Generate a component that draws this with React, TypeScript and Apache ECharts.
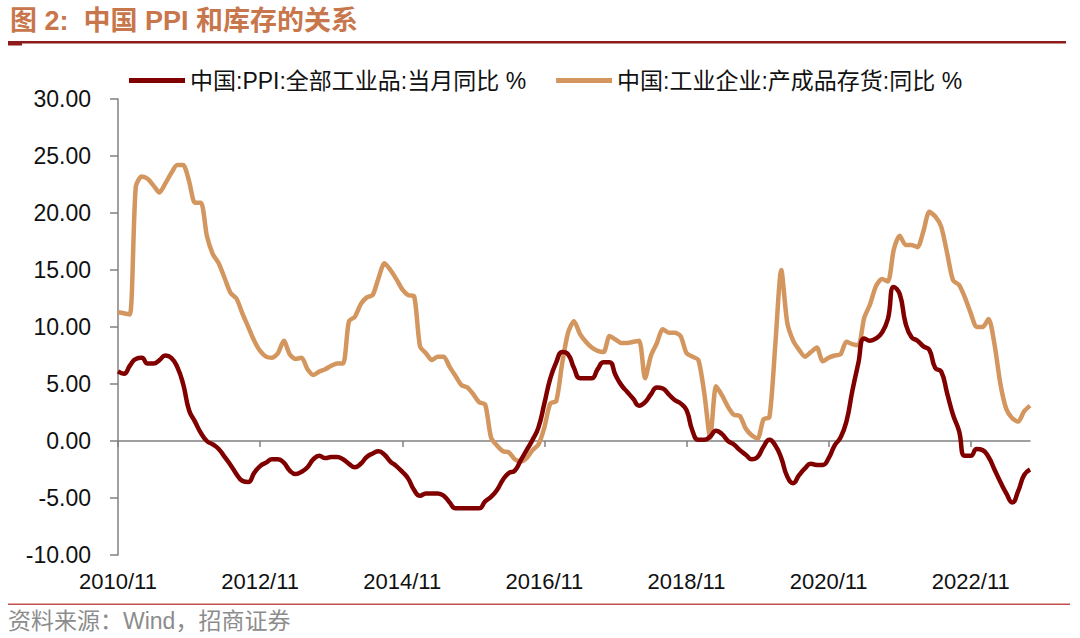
import React, { useEffect, useRef } from "react";
import * as echarts from "echarts";

// Monthly categories 2010/11 .. 2023/09
const startYear = 2010;
const startMonth = 11;
const monthCount = 155;
const categories: string[] = [];
for (let k = 0; k < monthCount; k++) {
  const m0 = startMonth - 1 + k;
  const y = startYear + Math.floor(m0 / 12);
  const m = (m0 % 12) + 1;
  categories.push(`${y}/${m < 10 ? "0" + m : m}`);
}
const labelEvery = 24;

const ppiName = "中国:PPI:全部工业品:当月同比 %";
const invName = "中国:工业企业:产成品存货:同比 %";

// PPI YoY, %
const ppi = [
  6.1, 5.9,
  6.6, 7.2, 7.3, 6.8, 6.8, 7.1, 7.5, 7.3, 6.5, 5.0, 2.7, 1.7,
  0.7, 0.0, -0.3, -0.7, -1.4, -2.1, -2.9, -3.5, -3.6, -2.8, -2.2, -1.9,
  -1.6, -1.6, -1.9, -2.6, -2.9, -2.7, -2.3, -1.6, -1.3, -1.5, -1.4, -1.4,
  -1.6, -2.0, -2.3, -2.0, -1.4, -1.1, -0.9, -1.2, -1.8, -2.2, -2.7, -3.3,
  -4.3, -4.8, -4.6, -4.6, -4.6, -4.8, -5.4, -5.9, -5.9, -5.9, -5.9, -5.9,
  -5.3, -4.9, -4.3, -3.4, -2.8, -2.6, -1.7, -0.8, 0.1, 1.2, 3.3, 5.5,
  6.9, 7.8, 7.6, 6.4, 5.5, 5.5, 5.5, 6.3, 6.9, 6.9, 5.8, 4.9,
  4.3, 3.7, 3.1, 3.4, 4.1, 4.7, 4.6, 4.1, 3.6, 3.3, 2.7, 0.9,
  0.1, 0.1, 0.4, 0.9, 0.6, 0.0, -0.3, -0.8, -1.2, -1.6, -1.4, -0.5,
  0.1, -0.4, -1.5, -3.1, -3.7, -3.0, -2.4, -2.0, -2.1, -2.1, -1.5, -0.4,
  0.3, 1.7, 4.4, 6.8, 9.0, 8.8, 9.0, 9.5, 10.7, 13.5, 12.9, 10.3,
  9.1, 8.8, 8.3, 8.0, 6.4, 6.1, 4.2, 2.3, 0.9, -1.3, -1.3, -0.7,
  -0.8, -1.4, -2.5, -3.6, -4.6, -5.4, -4.4, -3.0, -2.5,
];

// Finished goods inventory YoY, %
const inventory = [
  11.3, 11.2,
  11.1, 22.3, 23.2, 23.0, 22.4, 21.8, 22.6, 23.5, 24.2, 24.2, 22.8, 20.9,
  20.9, 18.0, 16.4, 15.6, 14.3, 13.0, 12.5, 11.2, 10.0, 8.8, 7.9, 7.4,
  7.3, 7.7, 8.8, 7.6, 7.2, 7.3, 6.3, 5.8, 6.1, 6.3, 6.6, 6.8,
  6.8, 10.5, 10.9, 12.0, 12.6, 12.8, 14.3, 15.6, 15.0, 14.2, 13.3, 12.8,
  12.7, 8.3, 7.7, 7.1, 7.4, 7.4, 6.5, 5.7, 4.9, 4.7, 4.1, 3.4,
  3.2, 0.3, -0.4, -0.9, -1.0, -1.6, -1.8, -1.5, -0.8, -0.3, 1.2, 3.3,
  3.5, 6.8, 9.5, 10.5, 9.4, 8.7, 8.2, 7.9, 7.8, 9.2, 8.9, 8.6,
  8.6, 8.7, 8.8, 5.5, 7.5, 8.6, 9.8, 9.5, 9.5, 9.2, 7.7, 7.4,
  7.1, 4.2, 0.3, 4.8, 4.0, 3.0, 2.3, 2.2, 1.1, 0.5, 0.2, 1.9,
  2.1, 8.5, 15.0, 10.4, 8.8, 8.0, 7.4, 7.8, 8.2, 7.0, 7.3, 7.5,
  7.6, 8.7, 8.5, 8.4, 10.8, 12.0, 13.6, 14.2, 14.0, 16.8, 18.0, 17.2,
  17.2, 17.0, 18.4, 20.1, 19.7, 18.8, 16.5, 14.1, 13.7, 12.6, 11.2, 10.0,
  10.0, 10.7, 8.5, 5.0, 2.8, 2.0, 1.7, 2.6, 3.1,
];

const yMin = -10;
const yMax = 30;
const yStep = 5;

const FONT = "'Liberation Sans', Arial, 'Noto Sans CJK SC', sans-serif";

export default function App() {
  const ref = useRef<HTMLDivElement>(null);

  useEffect(() => {
    if (!ref.current) return;
    const chart = echarts.init(ref.current, null, { renderer: "svg" });
    const tickEvery = (i: number) => i % labelEvery === 0;
    chart.setOption({
      animation: false,
      backgroundColor: "#ffffff",
      textStyle: { fontFamily: FONT },
      grid: {
        left: 118,
        right: 50,
        top: 99,
        bottom: 83,
        containLabel: false,
        outerBoundsMode: "none",
      },
      legend: {
        left: 124,
        top: 64,
        icon: "rect",
        itemWidth: 56,
        itemHeight: 5,
        itemGap: 30,
        textStyle: { fontSize: 23, color: "#111", fontFamily: FONT },
        data: [ppiName, invName],
      },
      xAxis: [
        {
          // labels at the bottom of the plot
          type: "category",
          position: "bottom",
          boundaryGap: false,
          data: categories,
          axisLine: { show: false, onZero: false },
          axisTick: { show: false },
          axisLabel: {
            interval: tickEvery,
            margin: 15,
            fontSize: 22,
            color: "#111",
            fontFamily: FONT,
          },
          splitLine: { show: false },
        },
        {
          // axis line and ticks at zero
          type: "category",
          position: "top",
          boundaryGap: false,
          data: categories,
          axisLine: { show: true, onZero: true, lineStyle: { color: "#808080", width: 1.5 } },
          axisTick: {
            show: true,
            inside: true,
            length: 6,
            interval: tickEvery,
            lineStyle: { color: "#808080", width: 1.5 },
          },
          axisLabel: { show: false },
          splitLine: { show: false },
        },
      ],
      yAxis: {
        type: "value",
        min: yMin,
        max: yMax,
        interval: yStep,
        axisLine: { show: true, lineStyle: { color: "#808080", width: 1.5 } },
        axisTick: { show: true, length: 8, lineStyle: { color: "#808080", width: 1.5 } },
        axisLabel: {
          formatter: (v: number) => v.toFixed(2),
          fontSize: 23,
          margin: 27,
          color: "#111",
          fontFamily: FONT,
        },
        splitLine: { show: false },
      },
      series: [
        {
          name: ppiName,
          type: "line",
          xAxisIndex: 0,
          data: ppi,
          showSymbol: false,
          smooth: 0.5,
          lineStyle: { color: "#800000", width: 4.5 },
          itemStyle: { color: "#800000" },
          z: 3,
        },
        {
          name: invName,
          type: "line",
          xAxisIndex: 0,
          data: inventory,
          showSymbol: false,
          smooth: 0.25,
          lineStyle: { color: "#D3965F", width: 4.5 },
          itemStyle: { color: "#D3965F" },
          z: 2,
        },
      ],
      graphic: [
        {
          type: "text",
          left: 10,
          top: 7,
          style: {
            text: "图 2:  中国 PPI 和库存的关系",
            fontSize: 27,
            fontWeight: "bold",
            fill: "#C8764C",
            fontFamily: FONT,
          },
        },
        { type: "rect", shape: { x: 8, y: 41, width: 1058, height: 2.5 }, style: { fill: "#8E1B1B" } },
        { type: "rect", shape: { x: 8, y: 41, width: 14, height: 4.5 }, style: { fill: "#8E1B1B" } },
        { type: "rect", shape: { x: 8, y: 603.5, width: 1062, height: 1.5 }, style: { fill: "#C0504D" } },
        {
          type: "text",
          left: 8,
          top: 609,
          style: {
            text: "资料来源：Wind，招商证券",
            fontSize: 23,
            fill: "#8C8C8C",
            fontFamily: FONT,
          },
        },
      ],
    });
    return () => chart.dispose();
  }, []);

  return (
    <div
      ref={ref}
      style={{ position: "absolute", left: 0, top: 0, width: 1080, height: 638, background: "#fff" }}
    />
  );
}
